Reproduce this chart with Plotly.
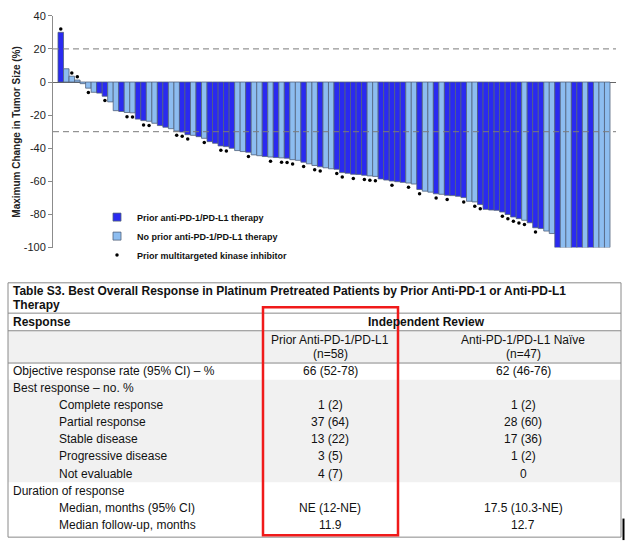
import plotly.graph_objects as go

W, H = 625, 550

# ---------------- data: waterfall ----------------
change = [
    30, 8, 3.5, 1.2, -1, -3.7, -6.2, -6.7, -8.6, -12,
    -17.3, -17.8, -18.4, -18.6, -22.4, -23.3, -23.7, -24.9, -26.3, -27.3,
    -28.2, -29.6, -30.2, -31.8, -32.2, -33, -34, -36, -37, -38.6,
    -39, -40, -41.4, -42, -42.4, -44, -44.5, -45, -45.3, -45.6,
    -45.8, -46, -46.9, -47.3, -48.4, -49.4, -50.4, -51.2, -51.8, -52.4,
    -52.7, -54.7, -55.1, -55.7, -55.8, -56.3, -56.7, -57, -58.5, -59.2,
    -59.8, -60.2, -60.6, -61, -61.6, -64.9, -65.9, -66.5, -67.5, -67.8,
    -68.4, -68.6, -69, -69.8, -72, -72.4, -74, -76.9, -77.3, -77.5,
    -78.5, -80, -81.5, -82.5, -83.5, -85, -88, -88.5, -90, -91.5,
    -100, -100, -100, -100, -100, -100, -100, -100, -100, -100,
]
# P = prior anti-PD-1/PD-L1 therapy, N = no prior
group = list(
    "PNNNNNNPPN"
    "NPNNPPNNPP"
    "NNPPNPNPPP"
    "PPNNPNNPNP"
    "NPNNPNNPNN"
    "PPPPPPNNPP"
    "PPPNNPNNPN"
    "PPPPNNPPPP"
    "PPPPNPPPNN"
    "PNNPPNPNNN"
)
# patients with prior multitargeted kinase inhibitor
mki = [1, 3, 4, 6, 9, 13, 14, 16, 17, 22, 23, 24, 27, 30, 31, 35, 39, 41, 42, 43,
       45, 47, 48, 51, 52, 54, 56, 57, 58, 61, 64, 66, 69, 71, 74, 76, 77, 81, 82,
       83, 84, 85, 87, 93, 98, 99, 100]

y_ticks = [40, 20, 0, -20, -40, -60, -80, -100]
y_tick_labels = ["40", "20", "0", "-20", "-40", "-60", "-80", "-100"]
ref_lines = [20, -30]
y_title = "Maximum Change in Tumor Size (%)"
legend_labels = ["Prior anti-PD-1/PD-L1 therapy",
                 "No prior anti-PD-1/PD-L1 therapy",
                 "Prior multitargeted kinase inhibitor"]

# ---------------- data: table ----------------
table_title = ["Table S3. Best Overall Response in Platinum Pretreated Patients by Prior Anti-PD-1 or Anti-PD-L1",
               "Therapy"]
head_left = "Response"
head_span = "Independent Review"
col_heads = [["Prior Anti-PD-1/PD-L1", "(n=58)"], ["Anti-PD-1/PD-L1 Naïve", "(n=47)"]]
row_labels = ["Objective response rate (95% CI) – %", "Best response – no. %",
              "Complete response", "Partial response", "Stable disease",
              "Progressive disease", "Not evaluable", "Duration of response",
              "Median, months (95% CI)", "Median follow-up, months"]
row_indent = [0, 0, 1, 1, 1, 1, 1, 0, 1, 1]
prior_vals = ["66 (52-78)", "", "1 (2)", "37 (64)", "13 (22)", "3 (5)", "4 (7)", "",
              "NE (12-NE)", "11.9"]
naive_vals = ["62 (46-76)", "", "1 (2)", "28 (60)", "17 (36)", "1 (2)", "0", "",
              "17.5 (10.3-NE)", "12.7"]

# ---------------- styles ----------------
DARK = "#2a2af0"
LIGHT = "#8dbdf0"
EDGE = "#52627c"
FONT = "Liberation Sans, Arial, sans-serif"
GRID = "#8a8a8a"


def px(x):
    return x / W


def py(y):
    return 1 - y / H


patients = list(range(1, len(change) + 1))
colors = [DARK if g == "P" else LIGHT for g in group]

fig = go.Figure()
fig.add_trace(go.Bar(
    x=patients, y=change, width=1,
    marker=dict(color=colors, line=dict(color=EDGE, width=0.8)),
    showlegend=False, hoverinfo="skip"))

dot_y = [change[i - 1] + (2.0 if change[i - 1] > 0 else -2.6) for i in mki]
fig.add_trace(go.Scatter(
    x=mki, y=dot_y, mode="markers", cliponaxis=False,
    marker=dict(color="black", size=3.5), showlegend=False, hoverinfo="skip"))

# legend entries
fig.add_trace(go.Scatter(x=[None], y=[None], mode="markers", name="<b>" + legend_labels[0] + "</b>",
                         marker=dict(symbol="square", size=8, color=DARK, line=dict(color=EDGE, width=0.8))))
fig.add_trace(go.Scatter(x=[None], y=[None], mode="markers", name="<b>" + legend_labels[1] + "</b>",
                         marker=dict(symbol="square", size=8, color=LIGHT, line=dict(color=EDGE, width=0.8))))
fig.add_trace(go.Scatter(x=[None], y=[None], mode="markers", name="<b>" + legend_labels[2] + "</b>",
                         marker=dict(symbol="circle", size=3.5, color="black")))

pitch = (610 - 58) / len(change)
fig.update_xaxes(domain=[px(53), px(616)],
                 range=[0.5 - 5 / pitch, len(change) + 0.5 + 6 / pitch],
                 visible=False, fixedrange=True)
fig.update_yaxes(domain=[py(247), py(10)], range=[-100, 40],
                 tickvals=y_ticks, ticktext=y_tick_labels,
                 ticks="outside", ticklen=4, tickcolor="#888", tickwidth=1,
                 showline=True, linecolor="#8c8c8c", linewidth=1,
                 zeroline=True, zerolinecolor="#666", zerolinewidth=1,
                 showgrid=False, fixedrange=True,
                 tickfont=dict(family=FONT, size=11, color="#222"))

shapes = []
for v in ref_lines:
    shapes.append(dict(type="line", xref="x domain", x0=0, x1=1, yref="y", y0=v, y1=v,
                       line=dict(color="#7a7a7a", width=1, dash="6px,4px"), layer="above"))

annotations = [dict(text="<b>" + y_title + "</b>", x=px(17), y=py(128.5), xref="paper", yref="paper",
                    textangle=-90, showarrow=False, xanchor="center", yanchor="middle",
                    font=dict(family=FONT, size=10, color="#222"))]

# ---------------- table ----------------
TL, TR = 8, 621
TEXT = "#111"
shapes += [
    dict(type="rect", xref="paper", yref="paper", x0=px(TL), x1=px(TR), y0=py(332), y1=py(365),
         fillcolor="#f1f1f1", line=dict(width=0), layer="below"),
    dict(type="rect", xref="paper", yref="paper", x0=px(TL), x1=px(TR), y0=py(382), y1=py(487),
         fillcolor="#f1f1f1", line=dict(width=0), layer="below"),
]
for yl in (314, 332, 365):
    shapes.append(dict(type="line", xref="paper", yref="paper", x0=px(TL), x1=px(TR), y0=py(yl), y1=py(yl),
                       line=dict(color=GRID, width=1)))
shapes.append(dict(type="rect", xref="paper", yref="paper", x0=px(TL), x1=px(TR), y0=py(283), y1=py(543),
                   line=dict(color=GRID, width=1)))
shapes.append(dict(type="rect", xref="paper", yref="paper", x0=px(263), x1=px(398), y0=py(308), y1=py(541),
                   line=dict(color="#f01a1a", width=2.5)))
shapes.append(dict(type="line", xref="paper", yref="paper", x0=px(623.5), x1=px(623.5), y0=py(524), y1=py(546),
                   line=dict(color="black", width=2)))


def add_text(t, x, y, anchor="left", bold=False, size=12):
    annotations.append(dict(text=("<b>" + t + "</b>") if bold else t, x=px(x), y=py(y),
                            xref="paper", yref="paper", showarrow=False, xanchor=anchor,
                            yanchor="middle", font=dict(family=FONT, size=size, color=TEXT)))


add_text(table_title[0], 11, 291.5, bold=True)
add_text(table_title[1], 11, 306, bold=True)
add_text(head_left, 11, 323, bold=True)
COLX = [330, 523]
add_text(head_span, (COLX[0] + COLX[1]) / 2, 323, anchor="center", bold=True)
for cx, lines in zip(COLX, col_heads):
    add_text(lines[0], cx, 341, anchor="center")
    add_text(lines[1], cx, 355.5, anchor="center")

ROW0, STEP = 373, 17.5
for i, (lab, ind, a, b) in enumerate(zip(row_labels, row_indent, prior_vals, naive_vals)):
    yy = ROW0 + i * STEP
    add_text(lab, 57 if ind else 11, yy)
    if a:
        add_text(a, COLX[0], yy, anchor="center")
    if b:
        add_text(b, COLX[1], yy, anchor="center")

fig.update_layout(
    width=W, height=H, margin=dict(l=0, r=0, t=0, b=0),
    paper_bgcolor="white", plot_bgcolor="white",
    bargap=0, barmode="overlay",
    shapes=shapes, annotations=annotations,
    legend=dict(x=px(97), y=py(201), xanchor="left", yanchor="top",
                bgcolor="rgba(0,0,0,0)", borderwidth=0, itemwidth=30, tracegroupgap=0,
                font=dict(family=FONT, size=9, color="#111")),
    font=dict(family=FONT),
    hovermode=False,
)

fig.write_html("out.html", config={"displayModeBar": False, "staticPlot": True},
               post_script="document.body.style.margin='0';document.body.style.overflow='hidden';")
